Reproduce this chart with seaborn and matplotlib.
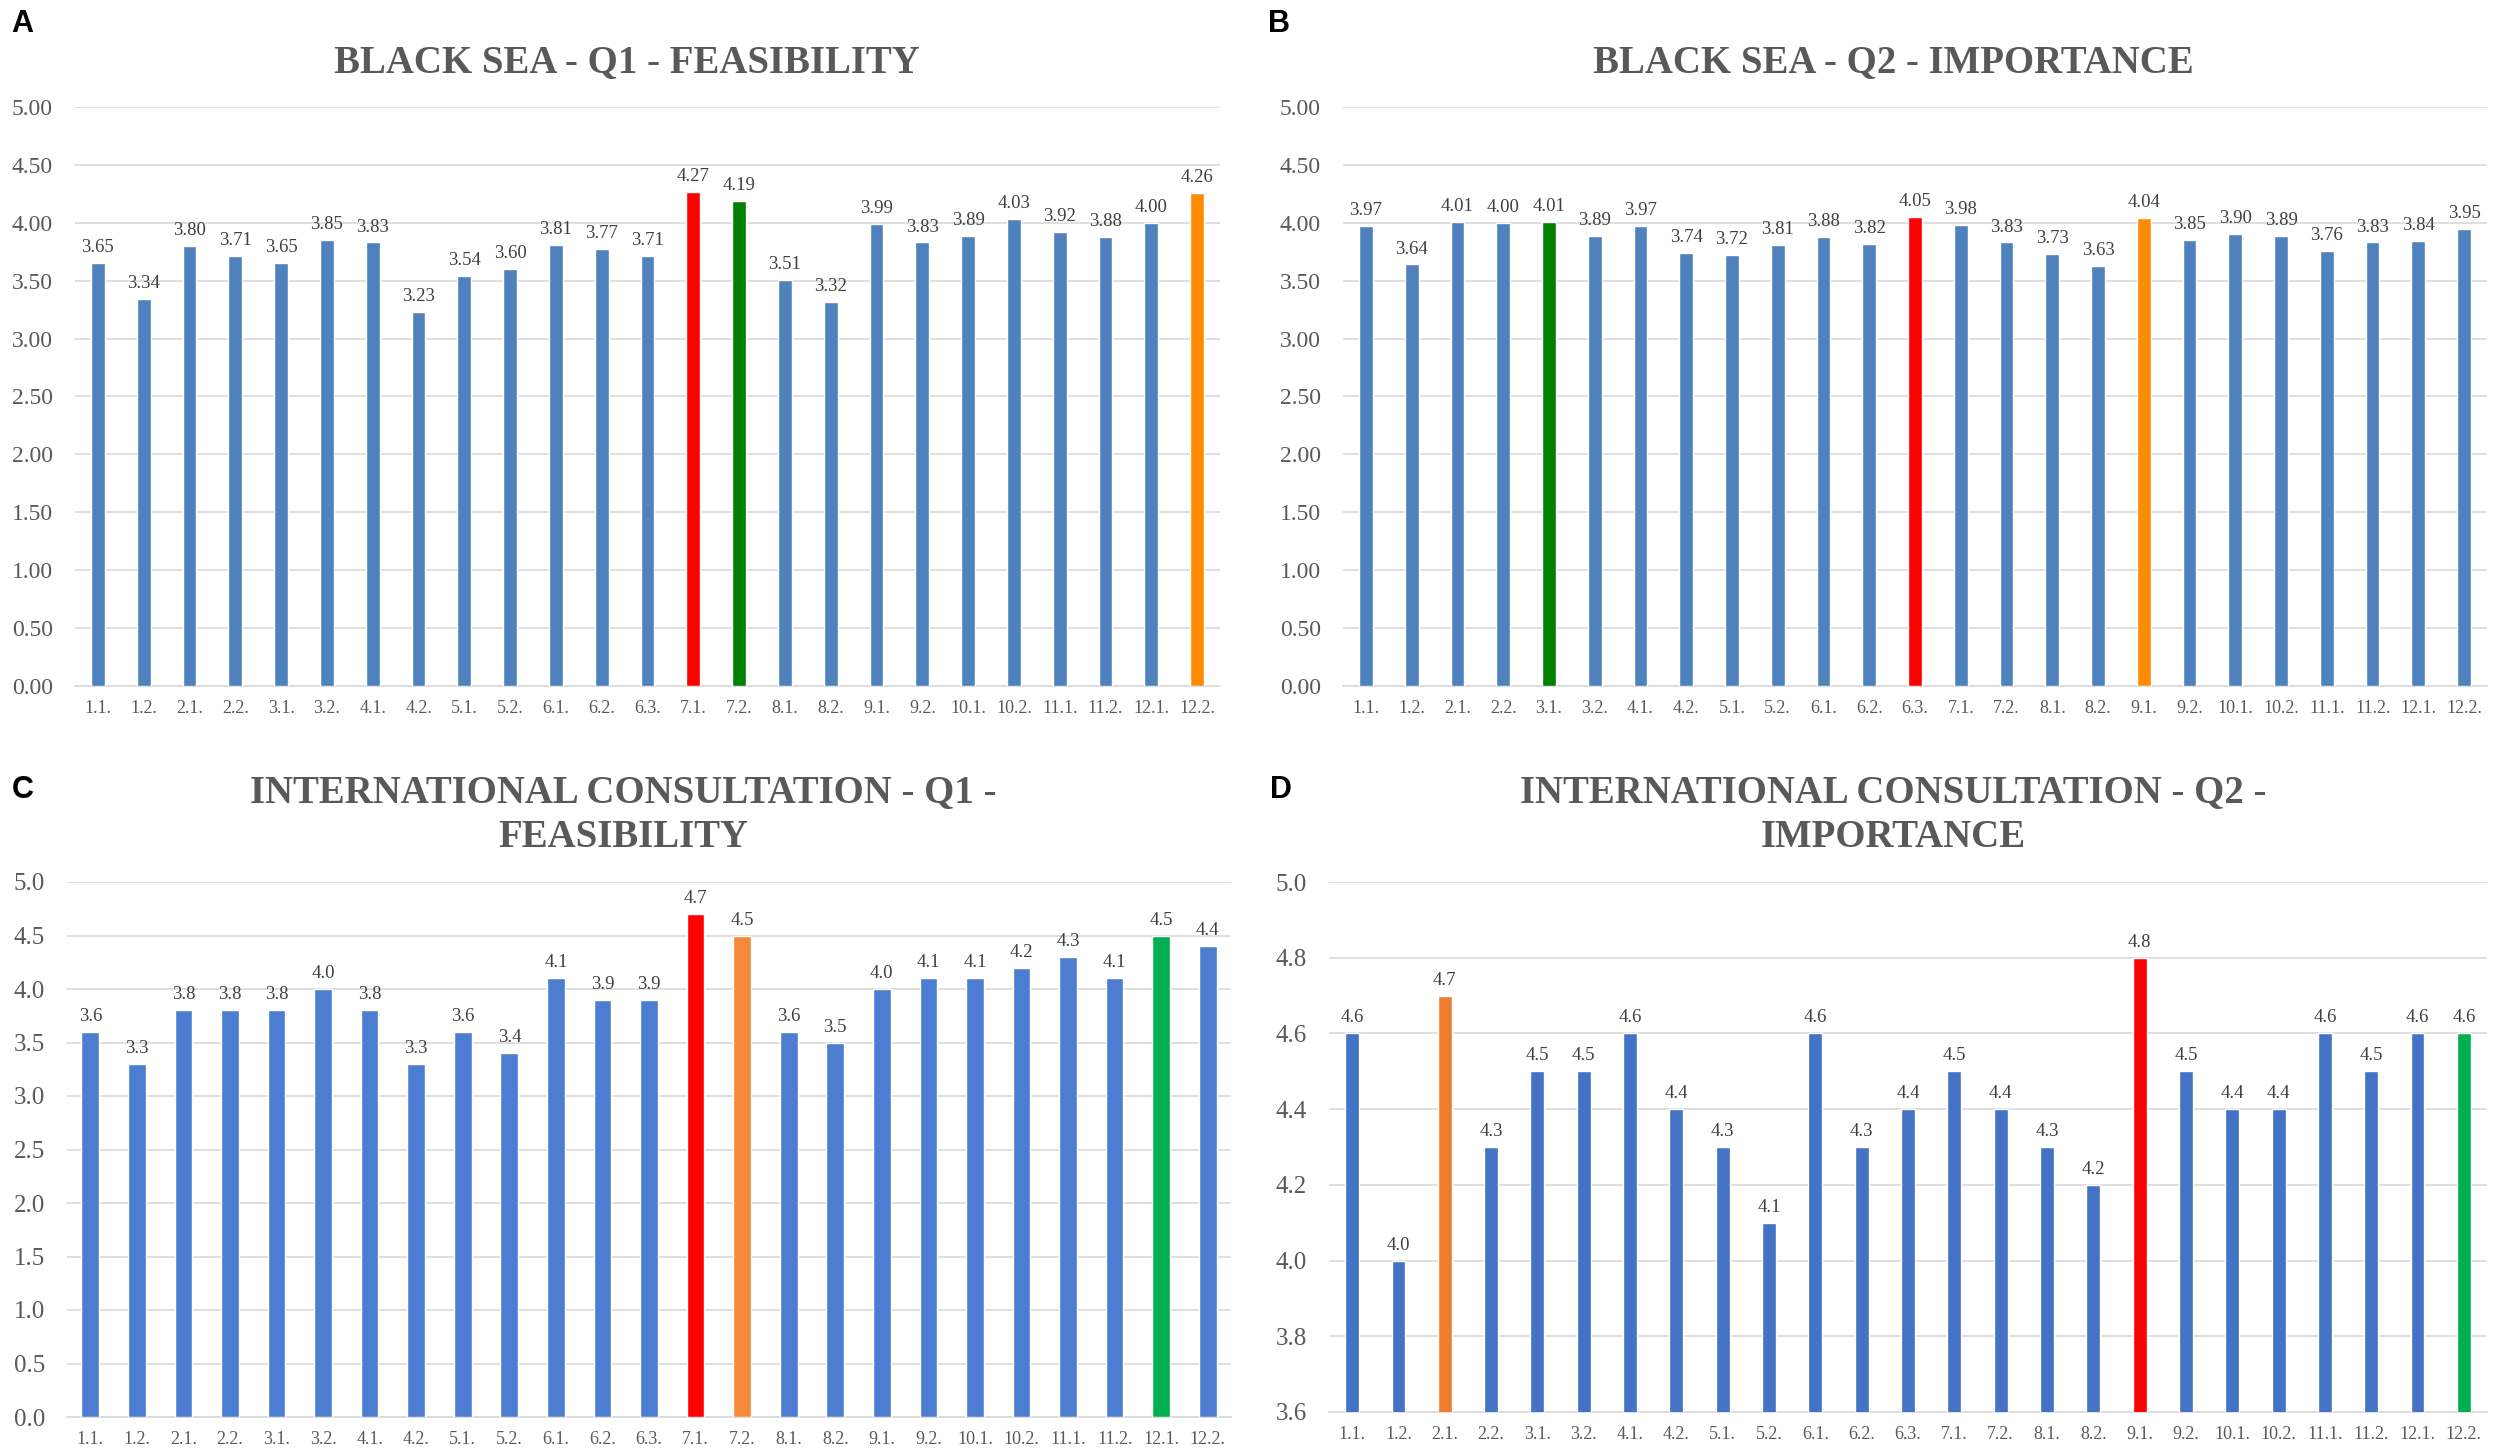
import matplotlib
matplotlib.use("Agg")
import matplotlib.pyplot as plt
import seaborn as sns
import pandas as pd
from matplotlib.ticker import MultipleLocator, FormatStrFormatter

# categories shared by all four panels
categories = ["1.1.", "1.2.", "2.1.", "2.2.", "3.1.", "3.2.", "4.1.", "4.2.", "5.1.",
              "5.2.", "6.1.", "6.2.", "6.3.", "7.1.", "7.2.", "8.1.", "8.2.", "9.1.",
              "9.2.", "10.1.", "10.2.", "11.1.", "11.2.", "12.1.", "12.2."]

# panel A - Black Sea Q1 feasibility
bs_q1 = [3.65, 3.34, 3.80, 3.71, 3.65, 3.85, 3.83, 3.23, 3.54, 3.60, 3.81, 3.77, 3.71,
         4.27, 4.19, 3.51, 3.32, 3.99, 3.83, 3.89, 4.03, 3.92, 3.88, 4.00, 4.26]
# panel B - Black Sea Q2 importance
bs_q2 = [3.97, 3.64, 4.01, 4.00, 4.01, 3.89, 3.97, 3.74, 3.72, 3.81, 3.88, 3.82, 4.05,
         3.98, 3.83, 3.73, 3.63, 4.04, 3.85, 3.90, 3.89, 3.76, 3.83, 3.84, 3.95]
# panel C - International consultation Q1 feasibility
ic_q1 = [3.6, 3.3, 3.8, 3.8, 3.8, 4.0, 3.8, 3.3, 3.6, 3.4, 4.1, 3.9, 3.9,
         4.7, 4.5, 3.6, 3.5, 4.0, 4.1, 4.1, 4.2, 4.3, 4.1, 4.5, 4.4]
# panel D - International consultation Q2 importance
ic_q2 = [4.6, 4.0, 4.7, 4.3, 4.5, 4.5, 4.6, 4.4, 4.3, 4.1, 4.6, 4.3, 4.4,
         4.5, 4.4, 4.3, 4.2, 4.8, 4.5, 4.4, 4.4, 4.6, 4.5, 4.6, 4.6]

# highlighted items per panel
hl_a = {"7.1.": "#FF0000", "7.2.": "#008000", "12.2.": "#FF8C00"}
hl_b = {"3.1.": "#008000", "6.3.": "#FF0000", "9.1.": "#FF8C00"}
hl_c = {"7.1.": "#FF0000", "7.2.": "#F58A3B", "12.1.": "#00B050"}
hl_d = {"2.1.": "#ED7D31", "9.1.": "#FF0000", "12.2.": "#00B050"}

sns.set_style("white")
SERIF = ["Liberation Serif", "DejaVu Serif"]
plt.rcParams["font.family"] = SERIF

GRID = "#D9D9D9"
TXT = "#595959"

fig = plt.figure(figsize=(25, 14.54), dpi=100)
W, H = 2500, 1454


def px_axes(l, t, r, b):
    return fig.add_axes([l / W, 1 - b / H, (r - l) / W, (b - t) / H])


def draw(ax, values, base, highlight, ylim, step, fmt, width, ysize):
    df = pd.DataFrame({"item": categories, "score": values})
    palette = {c: highlight.get(c, base) for c in categories}
    sns.barplot(data=df, x="item", y="score", hue="item", palette=palette,
                order=categories, hue_order=categories, width=width,
                legend=False, saturation=1, ax=ax, zorder=3)
    for cont in ax.containers:
        ax.bar_label(cont, fmt=fmt, padding=5, fontsize=13.5, color="#404040",
                     family=SERIF)
    ax.set_ylim(*ylim)
    ax.set_xlim(-0.5, len(categories) - 0.5)
    ax.yaxis.set_major_locator(MultipleLocator(step))
    ax.yaxis.set_major_formatter(FormatStrFormatter(fmt))
    ax.grid(axis="y", color=GRID, linewidth=1.2, zorder=0)
    ax.set_axisbelow(True)
    for s in ["left", "top", "right"]:
        ax.spines[s].set_visible(False)
    ax.spines["bottom"].set_color(GRID)
    ax.spines["bottom"].set_linewidth(1.2)
    ax.tick_params(axis="y", length=0, pad=16, labelsize=ysize, labelcolor=TXT)
    ax.tick_params(axis="x", length=0, pad=10, labelsize=13, labelcolor=TXT)
    ax.set_xlabel("")
    ax.set_ylabel("")
    fig.canvas.draw()
    for lbl in ax.get_xticklabels() + ax.get_yticklabels():
        lbl.set_family(SERIF)


axA = px_axes(75, 107, 1220, 686)
draw(axA, bs_q1, "#4F81BD", hl_a, (0, 5), 0.5, "%.2f", 0.3, 17)
axB = px_axes(1343, 107, 2487, 686)
draw(axB, bs_q2, "#4F81BD", hl_b, (0, 5), 0.5, "%.2f", 0.3, 17)
axC = px_axes(67, 882, 1231, 1417)
draw(axC, ic_q1, "#4D7DD0", hl_c, (0, 5), 0.5, "%.1f", 0.38, 18)
axD = px_axes(1329, 882, 2487, 1412)
draw(axD, ic_q2, "#4472C4", hl_d, (3.6, 5.0), 0.2, "%.1f", 0.3, 18)

title_kw = dict(ha="center", va="center", fontsize=28, fontweight="bold",
                color=TXT, linespacing=1.3)
fig.text(627 / W, 1 - 63 / H, "BLACK SEA - Q1 - FEASIBILITY", **title_kw)
fig.text(1893 / W, 1 - 63 / H, "BLACK SEA - Q2 - IMPORTANCE", **title_kw)
fig.text(623 / W, 1 - 815 / H, "INTERNATIONAL CONSULTATION - Q1 -\nFEASIBILITY", **title_kw)
fig.text(1893 / W, 1 - 815 / H, "INTERNATIONAL CONSULTATION - Q2 -\nIMPORTANCE", **title_kw)

# panel letters
let_kw = dict(fontsize=22, fontweight="bold", family="Liberation Sans", color="black")
fig.text(11 / W, 1 - 9 / H, "A", ha="left", va="top", **let_kw)
fig.text(1268 / W, 1 - 9 / H, "B", ha="left", va="top", **let_kw)
fig.text(12 / W, 1 - 790 / H, "C", ha="left", va="center", **let_kw)
fig.text(1270 / W, 1 - 790 / H, "D", ha="left", va="center", **let_kw)

fig.savefig("out.png", dpi=100, facecolor="white")
